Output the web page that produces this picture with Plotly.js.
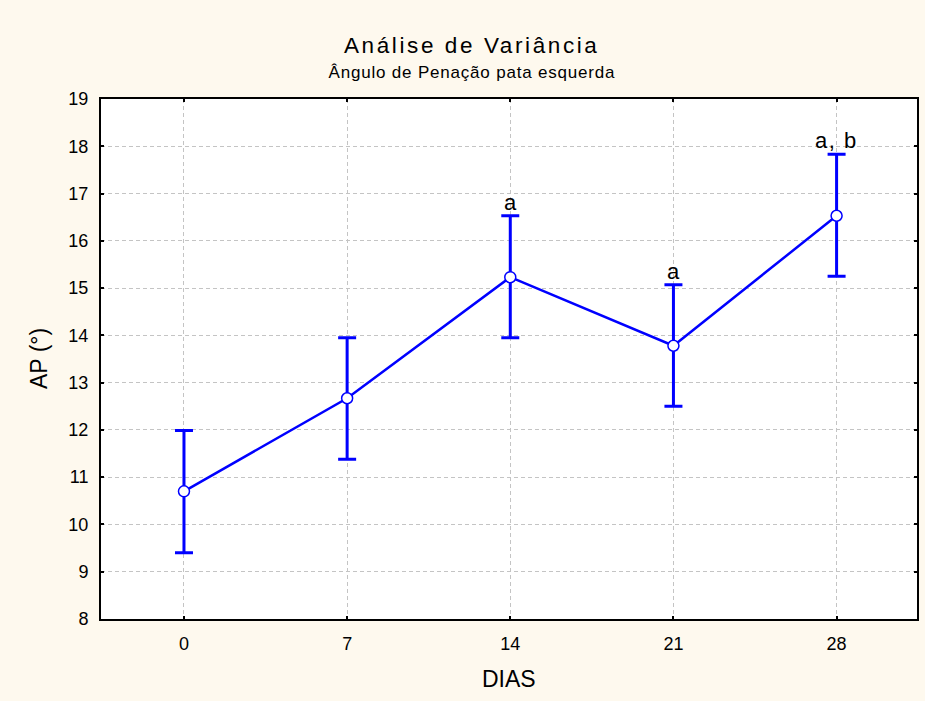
<!DOCTYPE html>
<html>
<head>
<meta charset="utf-8">
<script src="https://cdn.plot.ly/plotly-3.0.1.min.js"></script>
<style>html,body{margin:0;padding:0;background:#FEF9EE;}</style>
</head>
<body>
<div id="chart" style="width:925px;height:701px;"></div>
<script>
const dias = [0, 7, 14, 21, 28];
const means = [10.70, 12.67, 15.23, 13.78, 16.53];
const errPlus = [1.29, 1.28, 1.30, 1.29, 1.30];
const errMinus = [1.30, 1.29, 1.28, 1.28, 1.28];
const letters = ["", "", "a", "a", "a, b"];
const tickLabels = ["0", "7", "14", "21", "28"];

const FONT = 'Liberation Sans, Arial, sans-serif';

const trace = {
  x: dias, y: means, type: 'scatter', mode: 'lines+markers',
  line: {color: '#0000FF', width: 2.5},
  marker: {color: '#FFFFFF', size: 11, line: {color: '#0000FF', width: 1.5}},
  error_y: {type: 'data', symmetric: false, array: errPlus, arrayminus: errMinus,
            color: '#0000FF', thickness: 3, width: 9},
  hoverinfo: 'skip'
};

const ann = [];
const spacing = {};
dias.forEach((d, i) => {
  if (letters[i]) {
    spacing[ann.length] = letters[i].length > 1 ? '1.5px' : '0px';
    ann.push({x: d, y: means[i] + errPlus[i], xref: 'x', yref: 'y',
      text: letters[i], showarrow: false, yanchor: 'bottom', yshift: -1,
      font: {family: FONT, size: 22, color: '#000'}});
  }
});
spacing[ann.length] = '2.6px';
ann.push({x: 0.4547, xref: 'paper', yref: 'paper', y: 1, yshift: 54, showarrow: false,
  text: 'Análise de Variância', yanchor: 'middle',
  font: {family: FONT, size: 22.5, color: '#000'}});
spacing[ann.length] = '0.8px';
ann.push({x: 0.4547, xref: 'paper', yref: 'paper', y: 1, yshift: 27, showarrow: false,
  text: 'Ângulo de Penação pata esquerda', yanchor: 'middle',
  font: {family: FONT, size: 17, color: '#000'}});
ann.push({x: 0, xref: 'paper', yref: 'paper', y: 0.5, xshift: -62, showarrow: false,
  text: 'AP (°)', textangle: -90, xanchor: 'center', yanchor: 'middle',
  font: {family: FONT, size: 23, color: '#000'}});
ann.push({x: 0.5, xref: 'paper', yref: 'paper', y: 0, yshift: -60, showarrow: false,
  text: 'DIAS', xanchor: 'center', yanchor: 'middle',
  font: {family: FONT, size: 23, color: '#000'}});

const axisCommon = {
  showline: true, linecolor: '#000', linewidth: 2, mirror: 'ticks',
  ticks: 'inside', ticklen: 3, tickwidth: 2, tickcolor: '#000',
  showgrid: true, gridcolor: '#C4C4C4', griddash: '4px,3px', gridwidth: 1,
  zeroline: false, tickfont: {family: FONT, size: 18, color: '#000'}
};

const layout = {
  width: 925, height: 701,
  paper_bgcolor: '#FEF9EE', plot_bgcolor: '#FFFFFF',
  margin: {l: 101, r: 8, t: 99, b: 82},
  showlegend: false,
  xaxis: Object.assign({}, axisCommon, {
    range: [-3.56, 31.45], tickvals: dias, ticktext: tickLabels, ticklabelstandoff: 7
  }),
  yaxis: Object.assign({}, axisCommon, {
    range: [8, 19], dtick: 1, ticklabelstandoff: 7
  }),
  annotations: ann
};

Plotly.newPlot('chart', [trace], layout, {displayModeBar: false, staticPlot: true}).then(() => {
  document.querySelectorAll('#chart g.annotation').forEach(g => {
    const idx = g.getAttribute('data-index');
    if (spacing[idx]) {
      const t = g.querySelector('text.annotation-text');
      if (t) t.style.letterSpacing = spacing[idx];
    }
  });
});
</script>
</body>
</html>
